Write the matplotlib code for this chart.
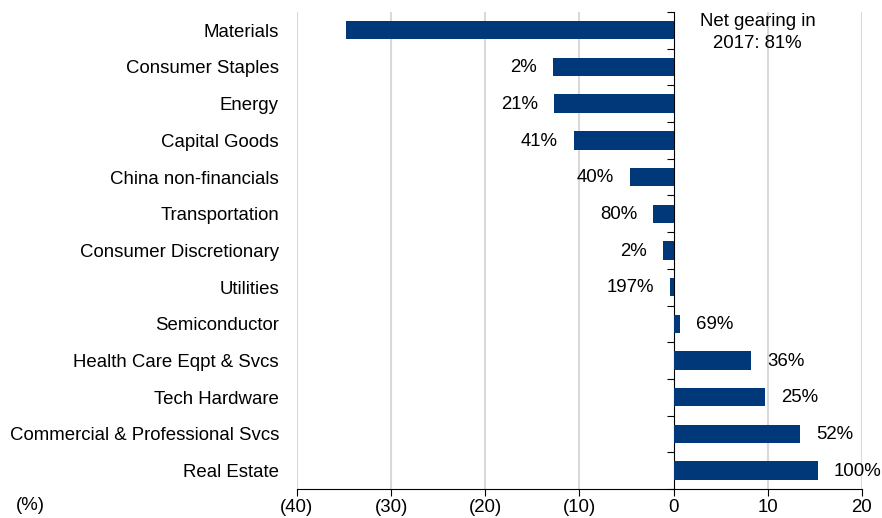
import numpy as np
import matplotlib
matplotlib.use("Agg")
import matplotlib.pyplot as plt

plt.rcParams['font.family'] = ['Liberation Sans', 'DejaVu Sans']
FS = 13.4
NAVY = '#00387A'

# Sectors, top to bottom as in the chart
sectors = ["Materials", "Consumer Staples", "Energy", "Capital Goods",
           "China non-financials", "Transportation", "Consumer Discretionary",
           "Utilities", "Semiconductor", "Health Care Eqpt & Svcs",
           "Tech Hardware", "Commercial & Professional Svcs", "Real Estate"]
values = [-34.75, -12.8, -12.7, -10.6, -4.65, -2.15, -1.15, -0.4,
          0.65, 8.2, 9.75, 13.4, 15.3]
gearing = [None, "2%", "21%", "41%", "40%", "80%", "2%", "197%",
           "69%", "36%", "25%", "52%", "100%"]
materials_note = "Net gearing in\n2017: 81%"
xticks = [-40, -30, -20, -10, 0, 10, 20]

fig = plt.figure(figsize=(8.82, 5.18), dpi=100)
ax = fig.add_axes([0.3367, 0.056, 0.6406, 0.921])

y = np.arange(len(sectors))
ax.barh(y, values, height=0.5, color=NAVY, zorder=3)
ax.set_ylim(len(sectors) - 0.5, -0.5)
ax.set_xlim(-40, 20)

# labels next to bar ends
for yi, v, lab in zip(y, values, gearing):
    if lab is None:
        continue
    if v < 0:
        ax.annotate(lab, (v, yi), xytext=(-11.5, -0.5), textcoords='offset points',
                    ha='right', va='center', fontsize=FS)
    else:
        ax.annotate(lab, (v, yi), xytext=(11.5, -0.5), textcoords='offset points',
                    ha='left', va='center', fontsize=FS)
ax.text(8.9, 0.06, materials_note, ha='center', va='center', fontsize=FS,
        linespacing=1.4)

# axes styling
for s in ['top', 'right', 'left']:
    ax.spines[s].set_visible(False)
ax.spines['bottom'].set_color('black')
ax.set_xticks(xticks)
ax.set_xticklabels([f"({-t})" if t < 0 else str(t) for t in xticks], fontsize=FS)
ax.tick_params(axis='x', length=5, color='black', pad=2)
ax.set_yticks(y)
ax.set_yticklabels(sectors, fontsize=FS)
ax.tick_params(axis='y', length=0, pad=13)
for t in xticks:
    if t != 0:
        ax.axvline(t, color='#d9d9d9', lw=1.5, zorder=1)

# zero line with boundary ticks
sec = ax.secondary_yaxis(0, transform=ax.transData)
sec.set_yticks(np.arange(len(sectors) + 1) - 0.5)
sec.set_yticklabels([])
sec.tick_params(axis='y', length=5, color='black', direction='out')
sec.spines['left'].set_color('black')

fig.text(0.035, 0.025, "(%)", fontsize=FS, ha='center', va='center')

fig.savefig("out.png", dpi=100)
